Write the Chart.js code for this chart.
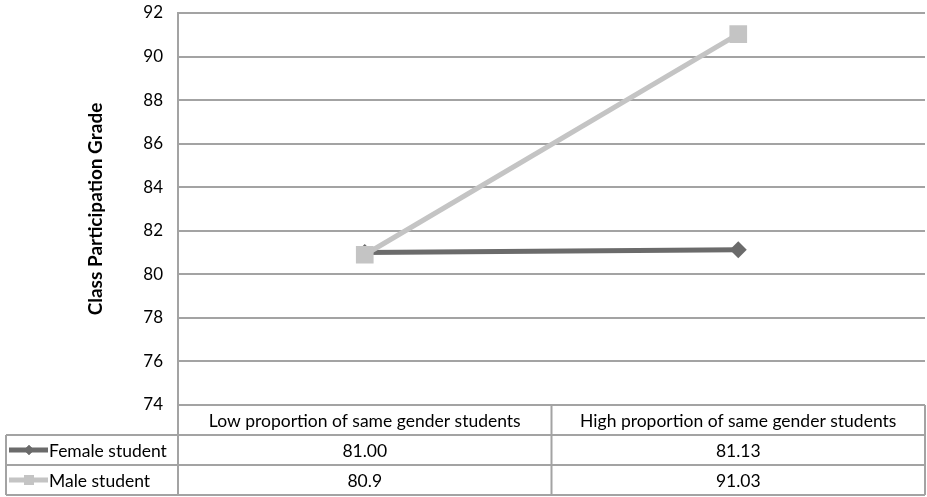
<!DOCTYPE html>
<html lang="en">
<head>
<meta charset="UTF-8" />
<title>Class Participation Grade</title>
<style>
  body { margin: 0; background: #fff; }
  #wrap { width: 927px; height: 497px; }
</style>
</head>
<body>
<div id="wrap"><canvas id="grades"></canvas></div>
<script src="https://cdn.jsdelivr.net/npm/chart.js"></script>
<script>
  // Data (values as printed in the table under the chart)
  const categories = ['Low proportion of same gender students', 'High proportion of same gender students'];
  const seriesNames = ['Female student', 'Male student'];
  const femaleText = ['81.00', '81.13'];
  const maleText = ['80.9', '91.03'];
  const yMin = 74, yMax = 92, yStep = 2;

  const femaleValues = femaleText.map(Number);
  const maleValues = maleText.map(Number);

  const FONT = 'Lato, "Open Sans", sans-serif';
  const GRID = '#a3a3a3';
  const FEMALE = '#6b6b6b';
  const MALE = '#c4c4c4';

  // Draws the data table (legend keys + values) under the plot
  const dataTable = {
    id: 'dataTable',
    afterDraw(chart) {
      const { ctx, chartArea: area, scales: { x } } = chart;
      const mid = (x.getPixelForValue(0) + x.getPixelForValue(1)) / 2;
      const cols = [6, area.left, mid, area.right];
      const rows = [area.bottom, area.bottom + 30, area.bottom + 60, area.bottom + 90];
      ctx.save();
      ctx.strokeStyle = GRID;
      ctx.lineWidth = 2;
      ctx.beginPath();
      for (let i = 1; i < rows.length; i++) {
        ctx.moveTo(cols[0], rows[i]);
        ctx.lineTo(cols[3], rows[i]);
      }
      ctx.moveTo(cols[0], rows[1]); ctx.lineTo(cols[0], rows[3]);
      for (let i = 1; i < cols.length; i++) {
        ctx.moveTo(cols[i], rows[0]);
        ctx.lineTo(cols[i], rows[3]);
      }
      ctx.stroke();

      ctx.fillStyle = '#000';
      ctx.font = '17.5px ' + FONT;
      ctx.textAlign = 'center';
      ctx.textBaseline = 'middle';
      categories.forEach((c, i) => {
        ctx.fillText(c, (cols[i + 1] + cols[i + 2]) / 2, (rows[0] + rows[1]) / 2 + 1);
      });
      const texts = [femaleText, maleText];
      texts.forEach((t, r) => {
        const cy = (rows[r + 1] + rows[r + 2]) / 2 + 1;
        t.forEach((v, i) => ctx.fillText(v, (cols[i + 1] + cols[i + 2]) / 2, cy));
      });

      // legend keys
      chart.data.datasets.forEach((ds, r) => {
        const cy = (rows[r + 1] + rows[r + 2]) / 2;
        ctx.strokeStyle = ds.borderColor;
        ctx.lineWidth = 5;
        ctx.beginPath();
        ctx.moveTo(9, cy);
        ctx.lineTo(48, cy);
        ctx.stroke();
        ctx.fillStyle = ds.borderColor;
        Chart.helpers.drawPoint(ctx, { pointStyle: ds.pointStyle, radius: ds.pointStyle === 'rect' ? 7 : 5, borderWidth: 0 }, 29, cy);
        ctx.fill();
        ctx.fillStyle = '#000';
        ctx.textAlign = 'left';
        ctx.fillText(seriesNames[r], 49, cy + 1);
      });
      ctx.restore();
    }
  };

  new Chart(document.getElementById('grades'), {
    type: 'line',
    data: {
      labels: categories,
      datasets: [
        {
          label: seriesNames[0],
          data: femaleValues,
          borderColor: FEMALE,
          backgroundColor: FEMALE,
          borderWidth: 5,
          pointStyle: 'rectRot',
          pointRadius: 8.5,
          pointBorderWidth: 0,
          order: 2
        },
        {
          label: seriesNames[1],
          data: maleValues,
          borderColor: MALE,
          backgroundColor: MALE,
          borderWidth: 5,
          pointStyle: 'rect',
          pointRadius: 12.5,
          pointBorderWidth: 0,
          order: 1
        }
      ]
    },
    options: {
      responsive: true,
      maintainAspectRatio: false,
      animation: false,
      layout: { autoPadding: false, padding: { top: 13, right: 2, bottom: 92, left: 0 } },
      plugins: { legend: { display: false }, tooltip: { enabled: false } },
      scales: {
        x: { display: false, offset: true },
        y: {
          min: yMin,
          max: yMax,
          afterFit: s => {
            s.width = 178;
            s.paddingTop = 0;
            s.paddingBottom = 0;
          },
          ticks: { stepSize: yStep, color: '#000', padding: 15, font: { family: FONT, size: 17 } },
          grid: { color: GRID, lineWidth: 2, drawTicks: false },
          border: { color: GRID, width: 2 },
          title: {
            display: true,
            text: 'Class Participation Grade',
            color: '#000',
            padding: { top: 84, bottom: 0 },
            font: { family: FONT, size: 19, weight: 'bold' }
          }
        }
      }
    },
    plugins: [dataTable]
  });
</script>
</body>
</html>
